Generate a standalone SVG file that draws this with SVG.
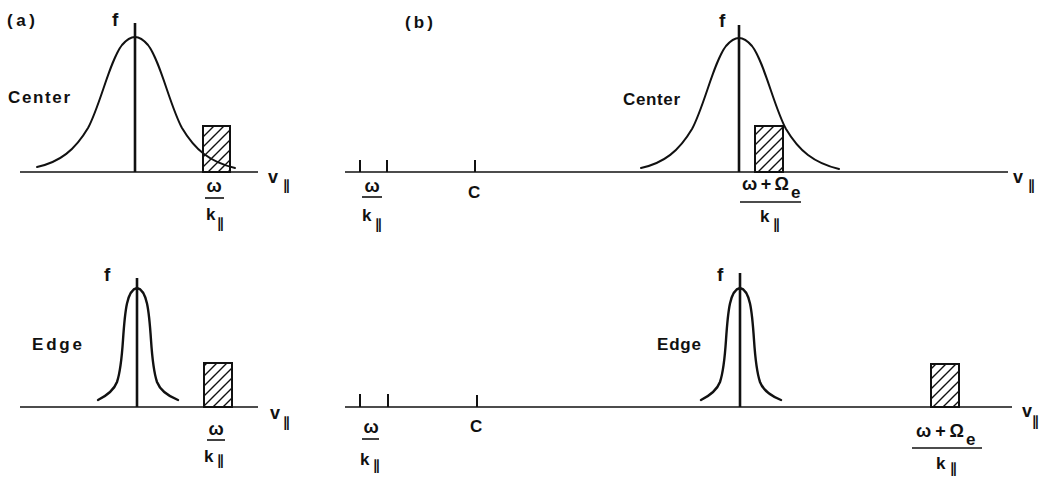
<svg xmlns="http://www.w3.org/2000/svg" width="1048" height="478" viewBox="0 0 1048 478">
<style>
  text { font-family: "Liberation Sans", "DejaVu Sans", sans-serif; fill: #111; font-weight: bold; }
  .lbl { font-size: 17px; }
  .big { font-size: 19px; }
  .sym { font-size: 18px; }
  .sub { font-size: 14px; font-family: "DejaVu Sans", sans-serif; }
  .axis { stroke: #111; stroke-width: 1.6; fill: none; }
  .fline { stroke: #111; stroke-width: 2.6; fill: none; }
  .curve { stroke: #111; stroke-width: 2; fill: none; stroke-linecap: round; }
  .ecurve { stroke: #111; stroke-width: 2.4; fill: none; stroke-linecap: round; }
  .box { fill: url(#hatch); stroke: #111; stroke-width: 2; }
  .tick { stroke: #111; stroke-width: 2; }
  .bar { stroke: #111; stroke-width: 1.6; }
</style>
<defs>
  <pattern id="hatch" patternUnits="userSpaceOnUse" width="10" height="10">
    <path d="M-2,2 L2,-2 M0,10 L10,0 M8,12 L12,8" stroke="#111" stroke-width="1.4"/>
  </pattern>
  <path id="wideGauss" d="M37,167 C60,162 75,150 88,128 C100,106 110,60 122,45 C128,38 132,37 135,37 C138,37 142,38 148,45 C160,60 170,106 182,128 C195,150 210,162 235,168"/>
  <path id="narrowGauss" d="M98,400 C106,396 114,390 117,382 C121,370 122,355 123,340 C125,310 127,290 137,288 C147,290 149,310 151,340 C152,355 153,370 157,382 C160,390 168,396 178,400"/>
</defs>
<rect width="1048" height="478" fill="#fff"/>

<g id="connectors"></g>

<!-- Panel (a), Center -->
<g id="a-center">
  <text class="lbl" x="7" y="26" textLength="28" lengthAdjust="spacing">(a)</text>
  <line class="axis" x1="20" y1="172" x2="258" y2="172"/>
  <rect class="box" x="203" y="126" width="27" height="46"/>
  <use href="#wideGauss" class="curve"/>
  <line class="fline" x1="135" y1="23" x2="135" y2="172"/>
  <text class="big" x="112" y="26">f</text>
  <text class="lbl" x="8" y="103" textLength="62" lengthAdjust="spacing">Center</text>
  <text class="sym" x="268" y="183">v</text>
  <text class="sub" x="283" y="190">∥</text>
  <text class="sym" x="214" y="192" text-anchor="middle">ω</text>
  <line class="bar" x1="205" y1="198" x2="224" y2="198"/>
  <text class="lbl" x="206" y="220">k</text>
  <text class="sub" x="217" y="228">∥</text>
</g>

<!-- Panel (a), Edge -->
<g id="a-edge">
  <line class="axis" x1="20" y1="407" x2="258" y2="407"/>
  <rect class="box" x="204" y="363" width="28" height="44"/>
  <use href="#narrowGauss" class="ecurve"/>
  <line class="fline" x1="137" y1="278" x2="137" y2="407"/>
  <text class="big" x="104" y="281">f</text>
  <text class="lbl" x="32" y="350" textLength="50" lengthAdjust="spacing">Edge</text>
  <text class="sym" x="270" y="419">v</text>
  <text class="sub" x="283" y="427">∥</text>
  <text class="sym" x="216" y="435" text-anchor="middle">ω</text>
  <line class="bar" x1="207" y1="440" x2="225" y2="440"/>
  <text class="lbl" x="204" y="462">k</text>
  <text class="sub" x="217" y="465">∥</text>
</g>

<!-- Panel (b), Center -->
<g id="b-center">
  <text class="lbl" x="405" y="28" textLength="28" lengthAdjust="spacing">(b)</text>
  <line class="axis" x1="345" y1="172" x2="1008" y2="172"/>
  <line class="tick" x1="360" y1="160" x2="360" y2="172"/>
  <line class="tick" x1="387" y1="160" x2="387" y2="172"/>
  <line class="tick" x1="475" y1="160" x2="475" y2="172"/>
  <text class="sym" x="372" y="192" text-anchor="middle">ω</text>
  <line class="bar" x1="362" y1="197" x2="382" y2="197"/>
  <text class="lbl" x="362" y="221">k</text>
  <text class="sub" x="375" y="229">∥</text>
  <text class="lbl" x="468" y="198">C</text>
  <text class="lbl" x="623" y="105" textLength="57" lengthAdjust="spacing">Center</text>
  <rect class="box" x="755" y="126" width="28" height="46"/>
  <use href="#wideGauss" class="curve" transform="translate(604,1)"/>
  <line class="fline" x1="739" y1="25" x2="739" y2="172"/>
  <text class="big" x="719" y="27">f</text>
  <text class="sym" x="1013" y="183">v</text>
  <text class="sub" x="1028" y="190">∥</text>
  <text class="sym" x="742" y="190" textLength="47" lengthAdjust="spacing">ω + Ω</text>
  <text class="lbl" x="791" y="198">e</text>
  <line class="bar" x1="740" y1="202" x2="801" y2="202"/>
  <text class="lbl" x="760" y="222">k</text>
  <text class="sub" x="773" y="229">∥</text>
</g>

<!-- Panel (b), Edge -->
<g id="b-edge">
  <line class="axis" x1="345" y1="407" x2="1012" y2="407"/>
  <line class="tick" x1="360" y1="394" x2="360" y2="407"/>
  <line class="tick" x1="388" y1="394" x2="388" y2="407"/>
  <line class="tick" x1="477" y1="395" x2="477" y2="407"/>
  <text class="sym" x="371" y="433" text-anchor="middle">ω</text>
  <line class="bar" x1="362" y1="439" x2="379" y2="439"/>
  <text class="lbl" x="360" y="465">k</text>
  <text class="sub" x="373" y="470">∥</text>
  <text class="lbl" x="470" y="432">C</text>
  <text class="lbl" x="657" y="350" textLength="44" lengthAdjust="spacing">Edge</text>
  <use href="#narrowGauss" class="ecurve" transform="translate(603,0)"/>
  <line class="fline" x1="740" y1="273" x2="740" y2="407"/>
  <text class="big" x="717" y="281">f</text>
  <rect class="box" x="931" y="364" width="28" height="43"/>
  <text class="sym" x="1022" y="417">v</text>
  <text class="sub" x="1032" y="426">∥</text>
  <text class="sym" x="916" y="437" textLength="48" lengthAdjust="spacing">ω + Ω</text>
  <text class="lbl" x="966" y="445">e</text>
  <line class="bar" x1="912" y1="448" x2="982" y2="448"/>
  <text class="lbl" x="936" y="469">k</text>
  <text class="sub" x="950" y="473">∥</text>
</g>
</svg>
